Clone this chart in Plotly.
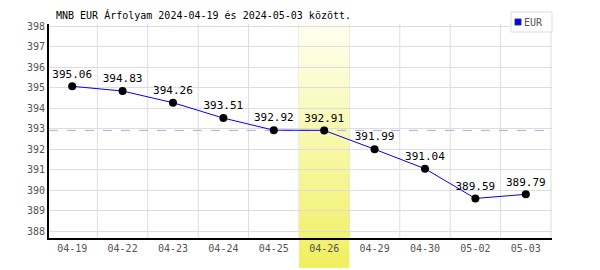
import plotly.graph_objects as go

dates = ["04-19", "04-22", "04-23", "04-24", "04-25", "04-26", "04-29", "04-30", "05-02", "05-03"]
eur = [395.06, 394.83, 394.26, 393.51, 392.92, 392.91, 391.99, 391.04, 389.59, 389.79]
y_ticks = [388, 389, 390, 391, 392, 393, 394, 395, 396, 397, 398]
highlight_index = 5
reference_level = 392.91
title = "MNB EUR Árfolyam 2024-04-19 és 2024-05-03 között."
series_name = "EUR"

FONT = "DejaVu Sans Mono"
L, R, T, B = 49, 48, 24, 32
W, H = 600, 270
PW, PH = W - L - R, H - T - B

def px_x(p):
    return (p - L) / PW

def px_y(p):
    return (H - B - p) / PH

xs = list(range(len(dates)))

fig = go.Figure()
fig.add_trace(go.Scatter(
    x=xs, y=eur, mode="lines+markers+text",
    line=dict(color="#0000ff", width=1),
    marker=dict(color="black", size=8),
    text=[f"{v:.2f}" for v in eur], textposition="top center",
    textfont=dict(family=FONT, size=11, color="black"),
    cliponaxis=False, showlegend=False, hoverinfo="skip"))

shapes = []
for k in range(len(dates)):
    shapes.append(dict(type="line", xref="x", yref="paper", x0=k + 0.5, x1=k + 0.5,
                       y0=0, y1=1, line=dict(color="#dddddd", width=1), layer="below"))
n = 40
top_c = (255, 255, 240)
bot_c = (240, 240, 96)
y_top = 1.0
y_bot = px_y(268)
for i in range(n):
    t = i / (n - 1)
    c = tuple(round(top_c[j] + (bot_c[j] - top_c[j]) * t) for j in range(3))
    y0 = y_top - (y_top - y_bot) * i / n
    y1 = y_top - (y_top - y_bot) * (i + 1) / n
    shapes.append(dict(type="rect", xref="x", yref="paper",
                       x0=highlight_index - 0.5, x1=highlight_index + 0.5,
                       y0=y1, y1=y0 + 0.002, fillcolor=f"rgb{c}",
                       line=dict(width=0), layer="between"))
shapes.append(dict(type="line", xref="paper", yref="y", x0=0, x1=1,
                   y0=reference_level, y1=reference_level,
                   line=dict(color="#aaaadd", width=1, dash="dash"), layer="between"))
shapes.append(dict(type="rect", xref="paper", yref="paper",
                   x0=px_x(511), x1=px_x(552), y0=px_y(32), y1=px_y(12),
                   fillcolor="white", line=dict(color="#dddddd", width=1), layer="above"))
shapes.append(dict(type="rect", xref="paper", yref="paper",
                   x0=px_x(515), x1=px_x(521), y0=px_y(25), y1=px_y(19),
                   fillcolor="#0000ff", line=dict(color="#333366", width=1), layer="above"))

annotations = [
    dict(text=title, xref="paper", yref="paper", x=px_x(54), y=px_y(15),
         xanchor="left", yanchor="middle", showarrow=False,
         font=dict(family=FONT, size=10, color="black")),
    dict(text=series_name, xref="paper", yref="paper", x=px_x(522), y=px_y(22),
         xanchor="left", yanchor="middle", showarrow=False,
         font=dict(family=FONT, size=10, color="#555555")),
]

fig.update_layout(
    width=W, height=H, margin=dict(l=L, r=R, t=T, b=B),
    paper_bgcolor="white", plot_bgcolor="white",
    shapes=shapes, annotations=annotations,
    xaxis=dict(range=[-0.46, len(dates) - 0.48], tickvals=xs, ticktext=dates,
               showgrid=False, zeroline=False, showline=True, linecolor="black",
               linewidth=2, ticks="", tickfont=dict(family=FONT, size=10, color="#555555")),
    yaxis=dict(range=[387.66, 398.1], tickvals=y_ticks, showgrid=True,
               gridcolor="#dddddd", zeroline=False, showline=True, linecolor="black",
               linewidth=2, ticks="", tickfont=dict(family=FONT, size=10, color="#555555")),
)

fig.write_html("out.html")
